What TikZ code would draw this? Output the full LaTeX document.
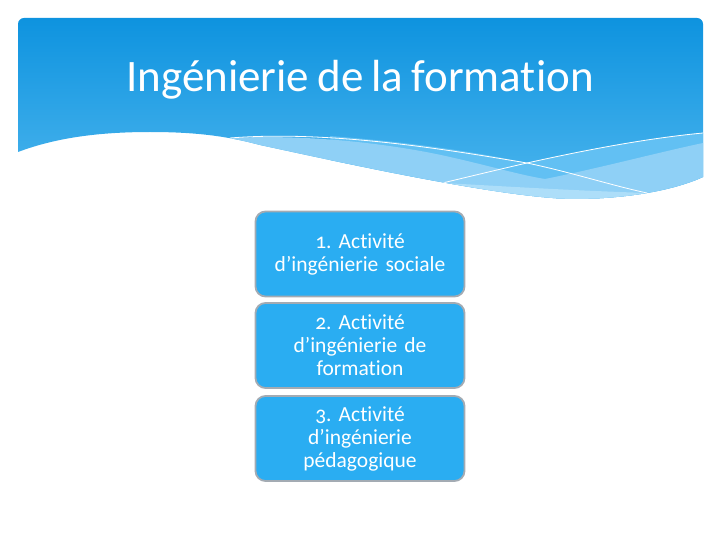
\documentclass[tikz,border=0pt]{standalone}
\usepackage{fontspec}
\setmainfont{Carlito}[Numbers=OldStyle, Ligatures=NoCommon, WordSpace=0.8]
\definecolor{headtop}{HTML}{0E93DF}
\definecolor{headbot}{HTML}{4DB6EE}
\definecolor{bandlight}{HTML}{8FD0F6}
\definecolor{bandmid}{HTML}{62C0F3}
\definecolor{bandpale}{HTML}{ADDEF9}
\definecolor{boxfill}{HTML}{2AADF2}
\definecolor{boxline}{HTML}{A3ABB3}
\frenchspacing
\begin{document}
\begin{tikzpicture}[x=1pt, y=-1pt,
    stepbox/.style={draw=boxline, line width=1.8pt, fill=boxfill, rounded corners=10pt,
      minimum width=209pt, minimum height=85pt, text width=205pt, align=center,
      text=white, font=\fontsize{21.5}{23}\selectfont, inner sep=0pt}]

  \useasboundingbox (0,0) rectangle (720,540);

  % Header with waves
  \begin{scope}
    \clip[rounded corners=6pt] (18,152) |- (703,18) -- (703,170) [sharp corners] -- (703,177)
      .. controls (670,192) and (620,199) .. (573,199)
      .. controls (500,198) and (330,160) .. (260,145)
      .. controls (230,137) and (200,132) .. (150,132)
      .. controls (90,132) and (50,140) .. (18,152) -- cycle;
    \shade[top color=headtop, bottom color=headbot] (18,18) rectangle (703,200);
    \fill[bandmid] (330,136) .. controls (420,143) and (480,153) .. (527,163)
      .. controls (590,149) and (650,138) .. (703,133) -- (703,210) -- (330,210) -- cycle;
    \fill[bandlight] (230,138) .. controls (330,133) and (420,150) .. (450,157)
      .. controls (490,166) and (520,175) .. (545,179)
      .. controls (600,168) and (660,152) .. (703,143) -- (703,210) -- (230,210) -- cycle;
    \fill[bandpale] (443,183) .. controls (500,186) and (560,190) .. (647,193)
      -- (647,210) -- (443,210) -- cycle;
    \draw[white, line width=0.8pt] (230,138) .. controls (330,130) and (450,150) .. (527,163)
      .. controls (570,172) and (610,185) .. (647,193);
    \draw[white, line width=0.8pt] (430,186) .. controls (480,174) and (505,168) .. (527,163)
      .. controls (590,149) and (650,138) .. (703,133);
  \end{scope}

  % Title
  \node[text=white, font=\fontsize{45}{50}\selectfont, anchor=base, inner sep=0pt] (title) at (360,92) {Ingénierie de la formation};

  % Nodes
  \node[stepbox] (box1) at (360,254) {1. Activité\\d’ingénierie sociale};
  \node[stepbox] (box2) at (360,345.5) {2. Activité\\d’ingénierie de\\formation};
  \node[stepbox] (box3) at (360,438.5) {3. Activité\\d’ingénierie\\pédagogique};

\end{tikzpicture}
\end{document}
